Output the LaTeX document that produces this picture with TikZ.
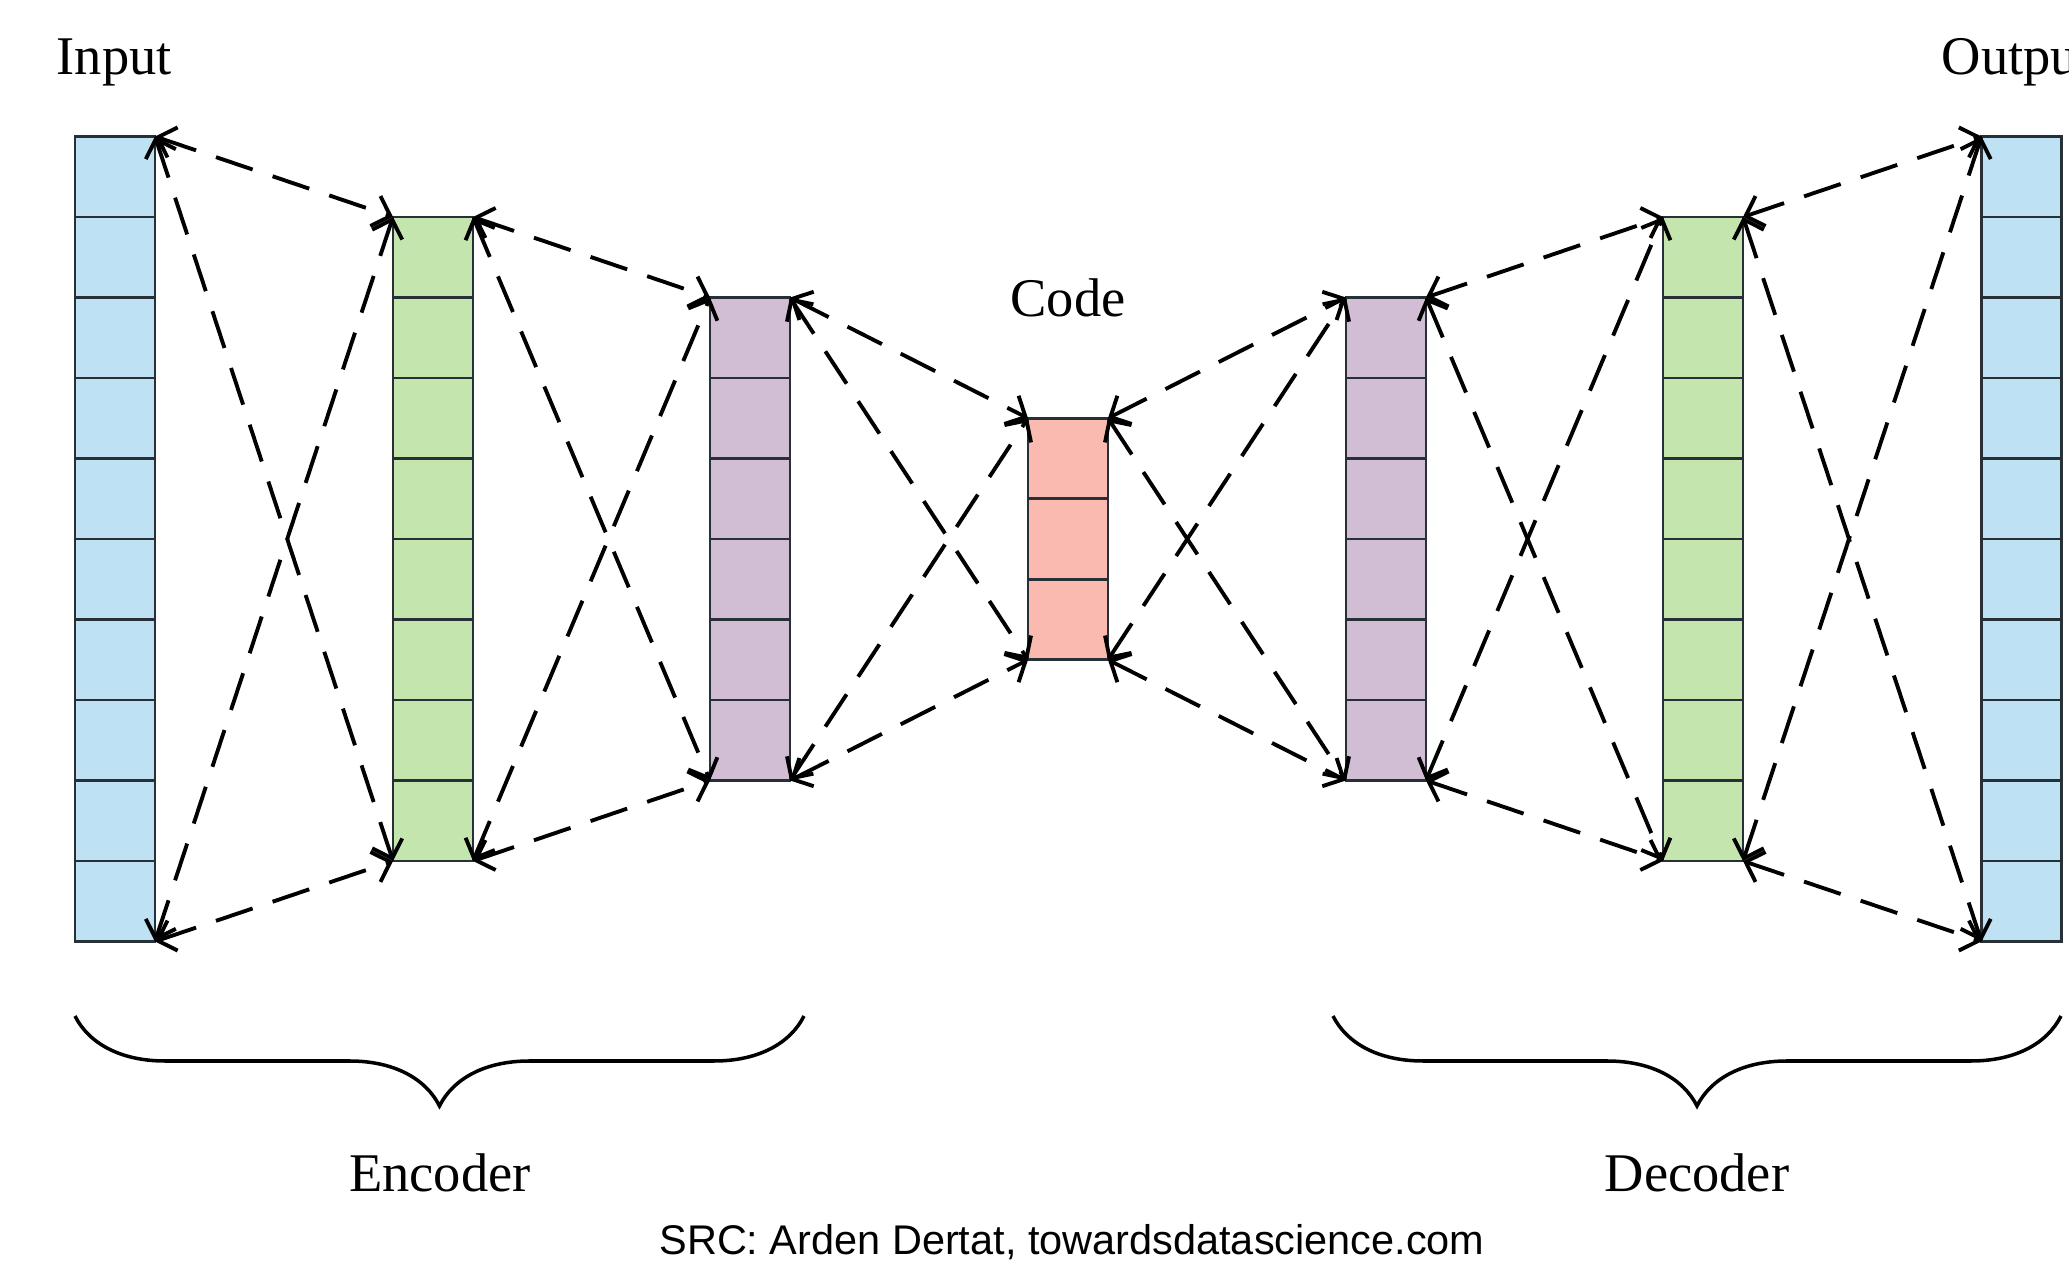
\documentclass[tikz,border=0pt]{standalone}
\usepackage{fontspec}
\setmainfont{Liberation Serif}
\newfontfamily\srcfont{Liberation Sans}
\usetikzlibrary{arrows.meta,calc,decorations.pathreplacing}
\definecolor{aeBlue}{HTML}{BEE1F3}
\definecolor{aeGreen}{HTML}{C5E5AE}
\definecolor{aePurple}{HTML}{D2BED4}
\definecolor{aeSalmon}{HTML}{FBBAAF}
\definecolor{aeEdge}{HTML}{263036}

\tikzset{
  layer/.style={draw=aeEdge, line width=0.8pt, minimum width=0.8cm,
    inner sep=0pt, outer sep=0pt},
  link/.style={<->, >={Straight Barb[length=4.5pt,width=9pt]},
    line width=1.1pt, dash pattern=on 11pt off 6pt},
  lbl/.style={font=\fontsize{15.5}{18}\selectfont, inner sep=0pt},
  curly/.style={decorate, decoration={brace, mirror, amplitude=0.9cm},
    line width=1pt}
}

\begin{document}
\begin{tikzpicture}
  \useasboundingbox (0,0) rectangle (20.69,12.67);
  \fill[white] (0,0) rectangle (20.69,12.67);

  % layers, all centred on one line
  \node[layer, fill=aeBlue, minimum height=8.05cm] (in) at (1.15,7.28) {};
  \node[layer, fill=aeGreen, minimum height=6.44cm] (enc1) at (4.33,7.28) {};
  \node[layer, fill=aePurple, minimum height=4.83cm] (enc2) at (7.50,7.28) {};
  \node[layer, fill=aeSalmon, minimum height=2.415cm] (code) at (10.68,7.28) {};
  \node[layer, fill=aePurple, minimum height=4.83cm] (dec1) at (13.86,7.28) {};
  \node[layer, fill=aeGreen, minimum height=6.44cm] (dec2) at (17.03,7.28) {};
  \node[layer, fill=aeBlue, minimum height=8.05cm] (out) at (20.215,7.28) {};

  % cell dividers
  \foreach \name/\n in {in/10, enc1/8, enc2/6, code/3, dec1/6, dec2/8, out/10} {
    \pgfmathtruncatemacro\m{\n-1}
    \foreach \k in {1,...,\m}
      \draw[aeEdge, line width=0.8pt]
        ($(\name.north west)!\k/\n!(\name.south west)$) --
        ($(\name.north east)!\k/\n!(\name.south east)$);
  }

  % dashed connections
  \foreach \a/\b in {in/enc1, enc1/enc2, enc2/code, code/dec1, dec1/dec2, dec2/out} {
    \draw[link] (\a.north east) -- (\b.north west);
    \draw[link] (\a.south east) -- (\b.south west);
    \draw[link] (\a.north east) -- (\b.south west);
    \draw[link] (\a.south east) -- (\b.north west);
  }

  % labels
  \node[lbl, anchor=base west] (inlbl) at (0.56,11.92) {Input};
  \node[lbl, anchor=base west] (outlbl) at (19.41,11.92) {Output};
  \node[lbl, anchor=base] (codelbl) at (10.68,9.50) {Code};

  % braces
  \draw[curly] (0.75,2.51) -- (8.04,2.51);
  \draw[curly] (13.33,2.51) -- (20.61,2.51);
  \node[lbl, anchor=base] (enclbl) at (4.40,0.75) {Encoder};
  \node[lbl, anchor=base] (declbl) at (16.97,0.75) {Decoder};

  \node[font=\srcfont\fontsize{11.8}{14}\selectfont, anchor=base, inner sep=0pt]
    (src) at (10.72,0.12) {SRC: Arden Dertat, towardsdatascience.com};
\end{tikzpicture}
\end{document}
